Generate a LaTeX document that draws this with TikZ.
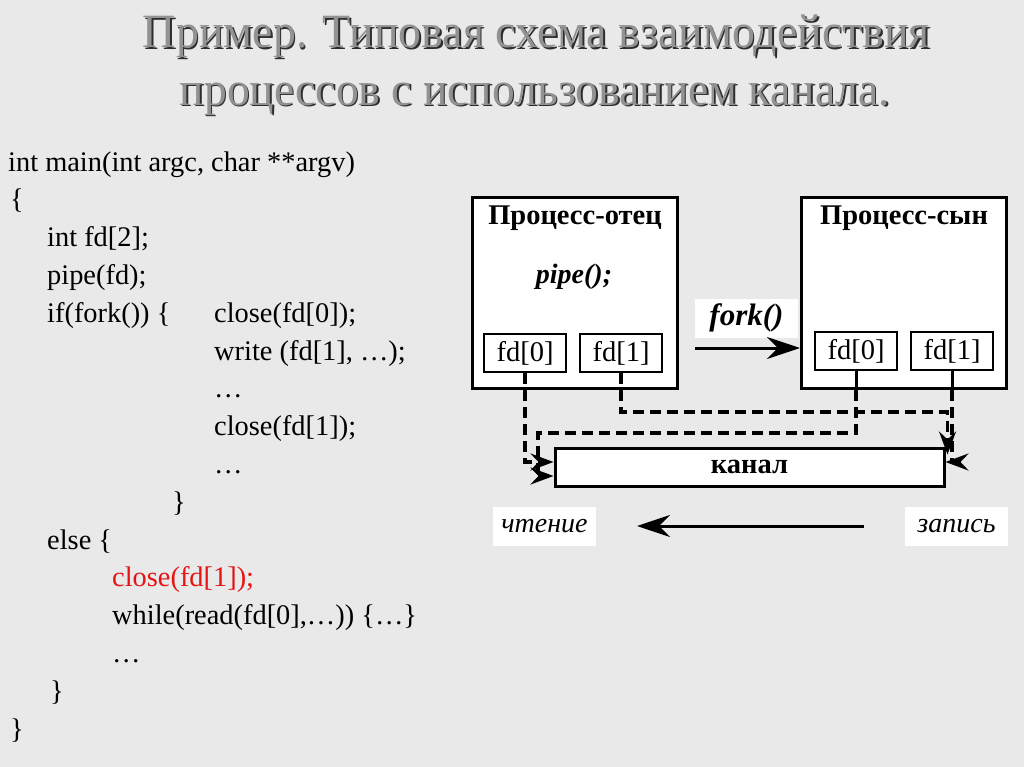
\documentclass[tikz,border=0pt]{standalone}
\usepackage{fontspec}
\setmainfont{Liberation Serif}
\usetikzlibrary{arrows.meta}
\definecolor{bg}{RGB}{233,233,233}
\definecolor{titlegray}{RGB}{146,146,146}
\definecolor{titledark}{RGB}{45,45,45}
\definecolor{codered}{RGB}{228,20,20}
\newcommand\titleA{Пример. Типовая схема взаимодействия}
\newcommand\titleB{процессов с использованием канала.}
\begin{document}
\begin{tikzpicture}[x=1bp,y=-1bp,
  codeline/.style={anchor=base west, inner sep=0pt, font=\fontsize{28.4bp}{34bp}\selectfont},
  titletext/.style={anchor=base, inner sep=0pt, font=\fontsize{45.5bp}{50bp}\selectfont},
  bigbox/.style={draw, line width=3bp, fill=white, inner sep=0pt},
  fdbox/.style={draw, line width=2bp, fill=white, inner sep=0pt, minimum width=82bp, minimum height=38bp, font=\fontsize{28.5bp}{30bp}\selectfont},
  boxtitle/.style={anchor=base, inner sep=0pt, font=\fontsize{28.5bp}{30bp}\selectfont\bfseries},
  whitelabel/.style={fill=white, inner sep=0pt, minimum width=103bp, minimum height=39bp, font=\fontsize{28bp}{30bp}\selectfont\itshape},
  solidconn/.style={line width=3bp},
  dconn/.style={line width=3.2bp, dash pattern=on 11bp off 6bp},
  smalltip/.style={-{Stealth[length=23bp,width=17bp,inset=8bp]}},
  bigtip/.style={-{Stealth[length=33bp,width=22bp,inset=11bp]}}
  ]
\useasboundingbox (0,0) rectangle (1024,767);
\fill[bg] (0,0) rectangle (1024,767);

% title
\node[titletext, text=titledark] (t1s) at (538,49.4) {\scalebox{1}[1.05]{\resizebox{787bp}{\height}{\titleA}}};
\node[titletext, text=titlegray] (t1) at (536.5,48) {\scalebox{1}[1.05]{\resizebox{787bp}{\height}{\titleA}}};
\node[titletext, text=titledark] (t2s) at (536.5,106.4) {\scalebox{1}[1.05]{\resizebox{710bp}{\height}{\titleB}}};
\node[titletext, text=titlegray] (t2) at (535,105) {\scalebox{1}[1.05]{\resizebox{710bp}{\height}{\titleB}}};

% code
\node[codeline] (c0) at (8,171) {int main(int argc, char **argv)};
\node[codeline] (c1) at (10,208.8) {\{};
\node[codeline] (c2) at (47,246.6) {int fd[2];};
\node[codeline] (c3) at (47,284.4) {pipe(fd);};
\node[codeline] (c4) at (47,322.2) {if(fork()) \{};
\node[codeline] (c4b) at (214,322.2) {close(fd[0]);};
\node[codeline] (c5) at (214,360) {write (fd[1], …);};
\node[codeline] (c6) at (214,397.8) {…};
\node[codeline] (c7) at (214,435.6) {close(fd[1]);};
\node[codeline] (c8) at (214,473.4) {…};
\node[codeline] (c9) at (172,511.2) {\}};
\node[codeline] (c10) at (47,549) {else \{};
\node[codeline, text=codered] (c11) at (112,586.8) {close(fd[1]);};
\node[codeline] (c12) at (112,624.6) {while(read(fd[0],…)) \{…\}};
\node[codeline] (c13) at (112,662.4) {…};
\node[codeline] (c14) at (50,700.2) {\}};
\node[codeline] (c15) at (10,738) {\}};

% process boxes
\node[bigbox, minimum width=205bp, minimum height=191bp] (par) at (575,293) {};
\node[bigbox, minimum width=205bp, minimum height=191bp] (son) at (904,293) {};
\node[boxtitle] (partitle) at (575,224) {Процесс-отец};
\node[boxtitle] (sontitle) at (904,224) {Процесс-сын};
\node[anchor=base, inner sep=0pt, font=\fontsize{28bp}{30bp}\selectfont\bfseries\itshape] (pipe) at (574,283) {pipe();};

\node[fdbox] (pfd0) at (525,353) {fd[0]};
\node[fdbox] (pfd1) at (621,353) {fd[1]};
\node[fdbox] (sfd0) at (856,351) {fd[0]};
\node[fdbox] (sfd1) at (952,351) {fd[1]};

% fork
\node[whitelabel, font=\fontsize{31bp}{32bp}\selectfont\bfseries\itshape] (fork) at (746.5,318) {fork()};
\coordinate (forkstart) at (695,348);
\draw[solidconn, bigtip] (forkstart) -- (forkstart -| son.west);

% channel
\node[draw, line width=3bp, fill=white, inner sep=0pt, minimum width=389bp, minimum height=38bp, font=\fontsize{28.5bp}{30bp}\selectfont\bfseries] (kanal) at (749.5,467) {канал};

% connectors
\coordinate (kne) at ([xshift=2bp]kanal.north east);
\draw[dconn, smalltip] (pfd0.south) |- ([yshift=5bp]kanal.west);
\draw[dconn, smalltip] (pfd1.south) -- (pfd1.south |- 0,412) -- (kne |- 0,412) -- ([yshift=-8bp]kne);
\draw[solidconn] (sfd0.south) -- (sfd0.south |- son.south);
\coordinate (sf0turn) at (sfd0.south |- 0,433);
\draw[dconn, smalltip] (sfd0.south |- son.south) -- (sf0turn) -- (538,433) -- (538,476) -- ([yshift=-9bp]kanal.west);
\draw[solidconn] (sfd1.south) -- (sfd1.south |- son.south);
\draw[dconn, smalltip] (sfd1.south |- son.south) |- ([yshift=5bp]kanal.east);

% read / write
\node[whitelabel] (read) at (544.5,526) {чтение};
\node[whitelabel] (write) at (956.5,526) {запись};
\coordinate (arrR) at (864,526);
\coordinate (arrL) at (637,526);
\draw[solidconn, bigtip] (arrR) -- (arrL);
\end{tikzpicture}
\end{document}
